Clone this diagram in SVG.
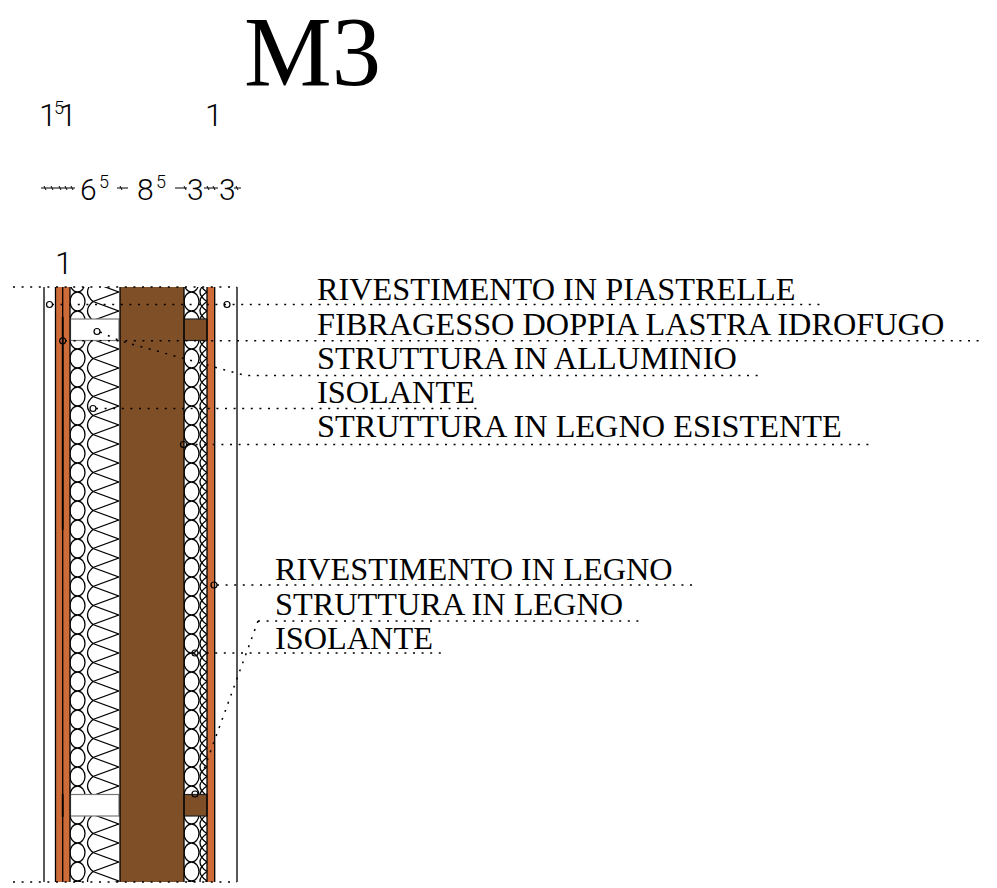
<svg xmlns="http://www.w3.org/2000/svg" width="997" height="888" viewBox="0 0 997 888">
<style>
.lab{font-family:"Liberation Serif",serif;font-size:32.3px;fill:#000}
.dim{font-family:"Roboto","Liberation Sans",sans-serif;font-weight:300;fill:#000}
.l{stroke:#000;stroke-width:1.3;fill:none}
.d{stroke:#000;stroke-width:1.5;fill:none;stroke-dasharray:2 6.6}
.c{fill:none;stroke:#000;stroke-width:1.2}
.t{stroke:#000;stroke-width:1;fill:none}
</style>
<defs>
<pattern id="insL" patternUnits="userSpaceOnUse" x="70" y="501" width="50" height="19">
<g fill="none" stroke="#000" stroke-width="1.3">
<ellipse cx="7.5" cy="9.5" rx="7.5" ry="9.5"/>
<path id="cL" d="M49,-19 L23,-9.5 Q12,0 23,9.5 L49,19"/>
<path d="M49,0 L23,9.5 Q12,19 23,28.5 L49,38"/>
<path d="M49,-38 L23,-28.5 Q12,-19 23,-9.5 L49,0"/>
</g>
</pattern>
<pattern id="insR" patternUnits="userSpaceOnUse" x="184" y="501" width="23" height="19">
<g fill="none" stroke="#000" stroke-width="1.3">
<ellipse cx="7.5" cy="9.5" rx="7.5" ry="9.5"/>
<path d="M23,0 Q9,9.5 23,19"/>
<path d="M23,-9.5 Q9,0 23,9.5"/>
<path d="M23,9.5 Q9,19 23,28.5"/>
</g>
</pattern>
</defs>

<text x="244" y="85" style="font-family:'Liberation Serif',serif;font-size:98.6px">M3</text>

<g id="dimensions">
<text class="dim" x="39" y="126" font-size="32">1</text>
<text class="dim" x="54" y="114" font-size="18">5</text>
<text class="dim" x="59" y="126" font-size="32">1</text>
<text class="dim" x="205" y="126" font-size="32">1</text>
<text class="dim" x="80" y="200" font-size="30">6</text>
<text class="dim" x="99" y="188" font-size="18">5</text>
<text class="dim" x="137" y="200" font-size="30">8</text>
<text class="dim" x="156" y="188" font-size="18">5</text>
<text class="dim" x="187" y="200" font-size="30">3</text>
<text class="dim" x="219" y="200" font-size="30">3</text>
<text class="dim" x="55" y="274" font-size="32">1</text>
<path class="t" d="M41,188H75M117,188H128M175,188H187M204,188H218M234,188H241"/>
<path class="t" d="M44,186l2,4M51,186l2,4M59,186l2,4M65,186l2,4M71,186l2,4M120,186l2,4M184,186l2,4M207,186l2,4M213,186l2,4M236,186l2,4"/>
</g>

<g id="wall">
<rect x="70" y="287" width="50" height="595" fill="url(#insL)"/>
<rect x="184" y="287" width="23" height="595" fill="url(#insR)"/>
<rect x="55.500" y="287" width="14.500" height="595" fill="#cd6b39"/>
<rect x="207" y="287" width="7.500" height="595" fill="#cd6b39"/>
<rect x="120" y="287" width="64" height="595" fill="#7f4f27"/>
<rect x="70.500" y="319" width="48.500" height="21.500" fill="#fff" stroke="#777" stroke-width="1.2"/>
<rect x="70.500" y="794.500" width="48.500" height="21.500" fill="#fff" stroke="#777" stroke-width="1.2"/>
<rect x="184" y="319" width="23" height="21.500" fill="#7f4f27" stroke="#222" stroke-width="1.200"/>
<rect x="184" y="794.500" width="23" height="21.500" fill="#7f4f27" stroke="#222" stroke-width="1.200"/>
<path class="l" d="M44,287V882M237,287V882M55.500,287V882M70,287V882M120,287V882M184,287V882M207,287V882M214.700,287V882M62.700,287V882"/>
<path stroke="#000" stroke-width="1.800" fill="none" d="M62.700,317V530M62.700,794V817"/>
</g>

<g id="connectors">
<path class="d" d="M13,287H237M13,882H237"/>
<path class="d" d="M52,304.500H824"/>
<path class="d" d="M65,340.800H984"/>
<path class="d" d="M100,332L120,340.800L245,375.500H763"/>
<path class="d" d="M96,408.500H483"/>
<path class="d" d="M187,444.500H875"/>
<path class="d" d="M217,585H697"/>
<path class="d" d="M258,621H645M258,621L203,772"/>
<path class="d" d="M198,653H442"/>
<circle class="c" cx="49.500" cy="304.500" r="3"/>
<circle class="c" cx="227" cy="304.500" r="3"/>
<circle class="c" cx="62.700" cy="340.800" r="3"/>
<circle class="c" cx="97" cy="331.500" r="3"/>
<circle class="c" cx="93" cy="408.500" r="3"/>
<circle class="c" cx="183.500" cy="444.500" r="3"/>
<circle class="c" cx="214" cy="585" r="3"/>
<circle class="c" cx="195" cy="653" r="3"/>
<circle class="c" cx="195" cy="794" r="3"/>
</g>

<g id="labels">
<text class="lab" x="317" y="300">RIVESTIMENTO IN PIASTRELLE</text>
<text class="lab" x="317" y="335">FIBRAGESSO DOPPIA LASTRA IDROFUGO</text>
<text class="lab" x="317" y="369">STRUTTURA IN ALLUMINIO</text>
<text class="lab" x="317" y="403">ISOLANTE</text>
<text class="lab" x="317" y="437">STRUTTURA IN LEGNO ESISTENTE</text>
<text class="lab" x="275" y="580">RIVESTIMENTO IN LEGNO</text>
<text class="lab" x="275" y="615">STRUTTURA IN LEGNO</text>
<text class="lab" x="275" y="649">ISOLANTE</text>
</g>
</svg>
